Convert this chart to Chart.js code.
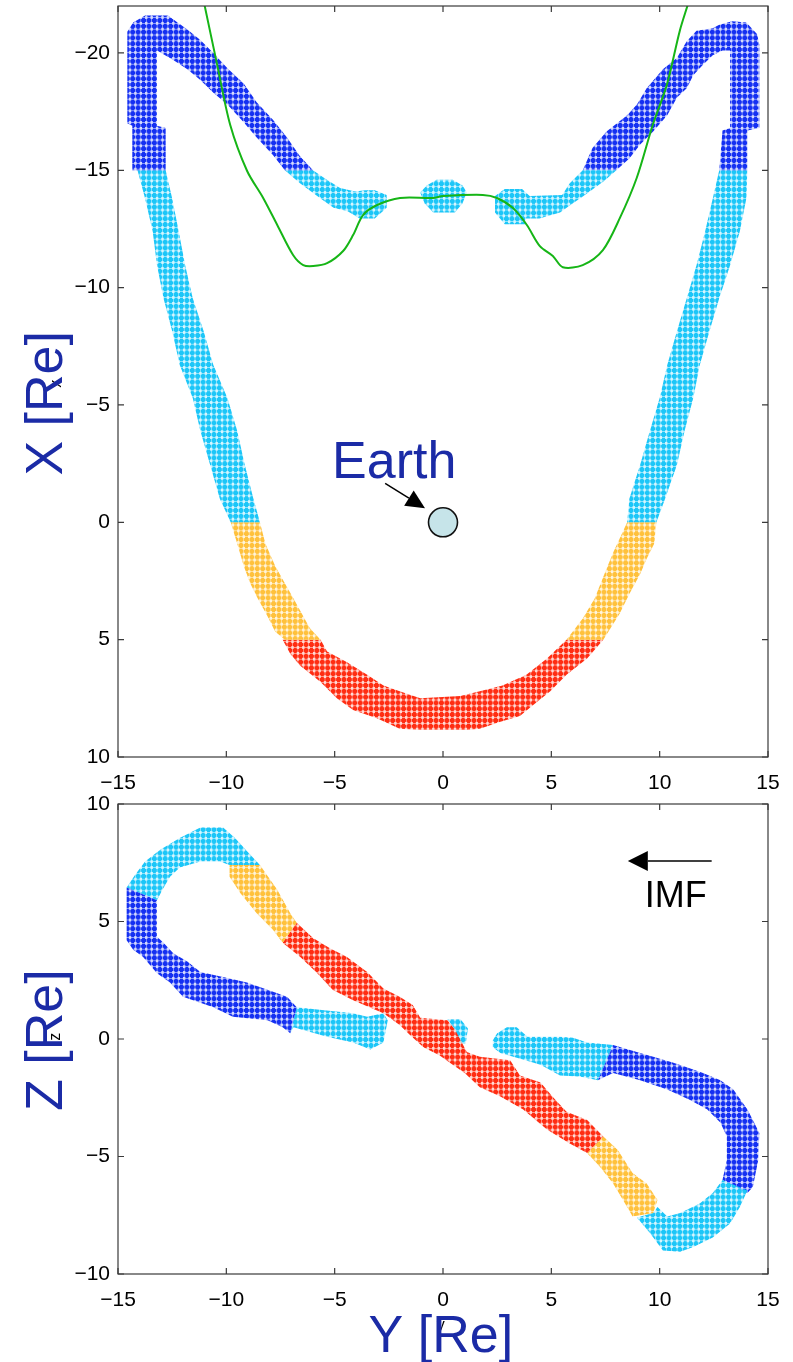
<!DOCTYPE html>
<html>
<head>
<meta charset="utf-8">
<script src="https://cdn.jsdelivr.net/npm/chart.js@4.4.1/dist/chart.umd.min.js"></script>
<style>
  html, body { margin: 0; padding: 0; background: #fff; }
  #wrap { position: relative; width: 793px; height: 1362px; }
  canvas { position: absolute; left: 0; }
  #topChart { top: 0; }
  #botChart { top: 780px; }
</style>
</head>
<body>
<div id="wrap">
  <canvas id="topChart" width="793" height="800"></canvas>
  <canvas id="botChart" width="793" height="582"></canvas>
</div>
<script>
// tick values
const yTicksAll = [-15, -10, -5, 0, 5, 10, 15];
const xTicksTop = [-20, -15, -10, -5, 0, 5, 10];
const zTicksBot = [-10, -5, 0, 5, 10];

// ---- top panel (Y, X) band outlines, one per colour piece ----
const topBlueLeft = [[-14.34,-15],[-14.34,-16.9],[-14.57,-17.0],[-14.57,-20.9],[-14.3,-21.3],[-13.75,-21.6],[-12.7,-21.6],[-11.8,-21.0],[-11.2,-20.55],[-10.6,-20.0],[-9.95,-19.35],[-9.2,-18.7],[-8.6,-17.9],[-7.85,-17.15],[-7.2,-16.4],[-6.6,-15.6],[-6.0,-15],[-7.3,-15],[-7.85,-15.65],[-8.6,-16.4],[-9.2,-17.05],[-9.95,-17.8],[-10.6,-18.3],[-11.2,-18.85],[-11.8,-19.3],[-12.45,-19.7],[-13.2,-20.1],[-13.2,-16.9],[-12.8,-16.8],[-12.8,-15]];
const topCyanLeftArm = [[-14.1,-15],[-13.75,-13.8],[-13.4,-12.4],[-13.2,-10.95],[-12.9,-9.55],[-12.5,-8.15],[-12.15,-6.7],[-11.55,-5.3],[-11.2,-3.9],[-10.75,-2.45],[-10.3,-1.0],[-9.8,0],[-8.45,0],[-8.75,-1.0],[-9.15,-2.45],[-9.5,-3.9],[-9.95,-5.3],[-10.6,-6.7],[-11.05,-8.15],[-11.55,-9.55],[-11.9,-10.95],[-12.2,-12.4],[-12.5,-13.8],[-12.8,-15]];
const topCyanUpperLeft = [[-6.0,-15],[-5.45,-14.65],[-4.75,-14.25],[-4.05,-14.1],[-3.6,-14.15],[-3.15,-14.15],[-2.6,-13.95],[-2.6,-13.4],[-3.15,-12.95],[-3.85,-12.95],[-4.4,-13.25],[-5.05,-13.4],[-5.65,-13.8],[-6.6,-14.45],[-7.3,-15]];
const topCyanNose = [[-0.3,-14.6],[0.45,-14.6],[0.9,-14.35],[1.1,-14.05],[0.9,-13.6],[0.55,-13.2],[-0.45,-13.2],[-0.85,-13.6],[-1.05,-14.05],[-0.75,-14.35]];
const topCyanUpperRight = [[2.4,-13.9],[2.85,-14.2],[3.65,-14.2],[4.0,-13.9],[5.5,-13.95],[5.85,-14.45],[6.45,-15],[8.0,-15],[7.45,-14.55],[6.55,-13.95],[5.85,-13.5],[5.4,-13.2],[4.45,-12.95],[3.8,-12.95],[3.8,-12.7],[2.85,-12.7],[2.4,-13.2]];
const topBlueRight = [[6.45,-15],[6.9,-15.95],[7.55,-16.65],[8.5,-17.35],[8.95,-17.8],[9.4,-18.5],[10.15,-19.3],[10.8,-19.8],[11.25,-20.5],[11.7,-20.95],[12.45,-21.05],[12.75,-21.2],[13.35,-21.35],[14.0,-21.3],[14.5,-20.8],[14.6,-20.35],[14.6,-16.8],[14.05,-16.7],[14.05,-15],[12.75,-15],[12.9,-16.7],[13.25,-16.8],[13.25,-20.1],[12.9,-20.1],[12.45,-19.9],[12.0,-19.5],[11.55,-19.05],[11.25,-18.5],[10.8,-18.1],[10.35,-17.35],[9.7,-16.65],[9.1,-16.1],[8.6,-15.5],[8.0,-15]];
const topCyanRightArm = [[12.75,-15],[12.45,-13.8],[12.1,-12.4],[11.7,-10.95],[11.25,-9.55],[10.8,-8.15],[10.35,-6.7],[10.0,-5.3],[9.55,-3.9],[9.1,-2.45],[8.6,-1.0],[8.5,0],[9.85,0],[10.25,-1.0],[10.8,-2.45],[11.15,-3.9],[11.55,-5.3],[11.85,-6.7],[12.3,-8.15],[12.75,-9.55],[13.25,-10.95],[13.7,-12.4],[14.0,-13.8],[14.05,-15]];
const topOrangeLeft = [[-9.8,0],[-9.5,0.9],[-9.2,1.85],[-8.9,2.6],[-8.55,3.25],[-8.1,4.0],[-7.75,4.65],[-7.3,5],[-5.65,5],[-6.15,4.5],[-6.45,4.0],[-6.9,3.25],[-7.3,2.6],[-7.75,1.85],[-8.2,0.9],[-8.45,0]];
const topOrangeRight = [[8.5,0],[8.15,0.7],[7.85,1.3],[7.45,2.2],[7.0,3.25],[6.45,4.1],[5.7,5],[7.4,5],[8.15,3.9],[8.6,3.05],[9.1,2.2],[9.4,1.55],[9.75,0.9],[9.85,0]];
const topRed = [[-7.4,5],[-7.05,5.6],[-6.6,6.1],[-5.65,6.8],[-4.9,7.5],[-4.15,8.0],[-3.05,8.35],[-2.0,8.8],[-1.05,8.85],[1.1,8.85],[1.7,8.8],[2.65,8.5],[3.55,8.25],[4.15,7.8],[4.95,7.2],[5.7,6.5],[6.65,5.8],[7.4,5],[5.7,5],[4.8,5.8],[3.85,6.5],[2.75,6.95],[1.7,7.2],[0.8,7.4],[-1.05,7.5],[-2.0,7.2],[-2.75,6.95],[-3.5,6.5],[-4.45,5.95],[-5.35,5.5],[-5.65,5]];

// green curve (Y, X)
const greenY = [-11.02,-10.42,-9.82,-9.04,-8.30,-7.65,-6.92,-6.45,-5.99,-5.35,-4.61,-4.15,-3.69,-3.04,-1.98,-0.46,0,1.84,2.49,3.23,3.87,4.47,5.07,5.53,6.45,7.38,8.16,8.94,9.68,10.33,10.93,11.30];
const greenX = [-22.1,-19.48,-16.93,-14.97,-13.82,-12.67,-11.39,-10.96,-10.92,-11.04,-11.56,-12.24,-13.09,-13.52,-13.82,-13.82,-13.9,-13.95,-13.82,-13.39,-12.67,-11.77,-11.35,-10.87,-10.96,-11.6,-12.96,-14.67,-16.93,-18.64,-20.95,-22.06];

// ---- bottom panel (Y, Z) band outlines ----
const botBlueLeft = [[-14.6,6.45],[-14.6,4.2],[-14.3,3.8],[-13.85,3.5],[-13.2,2.8],[-12.6,2.4],[-12.0,1.8],[-10.6,1.35],[-9.7,0.95],[-8.1,0.8],[-7.4,0.5],[-7.05,0.25],[-6.75,1.35],[-7.2,1.8],[-8.1,2.1],[-9.05,2.4],[-9.95,2.6],[-11.2,2.85],[-11.8,3.3],[-12.45,3.65],[-12.9,4.1],[-13.2,4.35],[-13.2,5.9]];
const botCyanLoopLeft = [[-14.6,6.45],[-14.2,7.0],[-13.75,7.55],[-13.05,8.05],[-12.15,8.55],[-11.2,9.0],[-10.15,9.0],[-9.6,8.55],[-9.0,7.95],[-8.45,7.4],[-9.85,7.4],[-10.3,7.55],[-11.2,7.55],[-12.15,7.3],[-12.6,6.9],[-12.95,6.35],[-13.2,5.9]];
const botOrangeLeft = [[-9.85,7.4],[-8.45,7.4],[-7.65,6.35],[-7.05,5.35],[-6.75,4.95],[-7.4,4.1],[-7.85,4.65],[-8.6,5.35],[-9.35,6.2],[-9.85,6.9]];
const botRed = [[-6.75,4.95],[-6.0,4.3],[-5.2,3.85],[-4.45,3.5],[-3.5,2.85],[-2.75,2.15],[-2.0,1.8],[-1.4,1.45],[-1.05,0.9],[0.2,0.8],[0.55,0.4],[1.1,-0.55],[1.7,-0.75],[3.1,-0.9],[3.55,-1.55],[4.5,-1.85],[5.1,-2.5],[5.7,-3.1],[6.65,-3.45],[7.4,-4.15],[6.65,-4.85],[5.85,-4.45],[4.8,-3.85],[3.7,-3.0],[2.65,-2.45],[1.7,-2.05],[1.0,-1.45],[0.3,-1.0],[-0.15,-0.7],[-0.9,-0.35],[-1.5,0.15],[-2.0,0.6],[-2.75,1.1],[-4.15,1.65],[-5.1,2.1],[-5.8,2.8],[-6.6,3.5],[-7.4,4.1]];
const botOrangeRight = [[7.4,-4.15],[8.05,-4.7],[8.75,-5.7],[9.4,-6.15],[9.9,-6.85],[9.7,-7.4],[8.75,-7.55],[8.5,-7.15],[7.85,-6.15],[7.25,-5.45],[6.65,-4.85]];
const botCyanLoopRight = [[8.95,-7.6],[9.55,-8.25],[10.15,-9.0],[10.95,-9.05],[11.55,-8.85],[12.45,-8.45],[13.25,-7.85],[13.7,-7.15],[14.05,-6.45],[12.9,-6.0],[12.45,-6.55],[11.85,-7.0],[10.95,-7.4],[10.35,-7.55],[9.9,-7.15],[9.7,-7.4]];
const botBlueRight = [[14.05,-6.55],[14.3,-6.3],[14.55,-5.15],[14.6,-4.0],[14.3,-3.45],[14.05,-3.0],[13.4,-2.15],[12.8,-1.75],[12.0,-1.45],[11.25,-1.2],[10.6,-1.0],[9.7,-0.75],[9.1,-0.6],[7.85,-0.25],[7.15,-1.75],[7.85,-1.45],[9.1,-1.75],[10.35,-2.15],[11.4,-2.6],[12.2,-3.0],[12.8,-3.55],[13.1,-4.15],[13.1,-5.15],[12.9,-6.0]];
const botCyanUpperRight = [[2.3,-0.05],[2.5,0.25],[2.95,0.5],[3.4,0.5],[3.9,0.1],[5.4,0.1],[6.0,0.05],[6.65,-0.15],[7.85,-0.25],[7.15,-1.75],[6.3,-1.6],[5.4,-1.55],[4.5,-1.1],[3.25,-0.75],[2.65,-0.6],[2.3,-0.35]];
const botCyanLowerLeft = [[-6.75,1.35],[-5.7,1.25],[-4.15,1.1],[-3.5,0.95],[-2.75,1.1],[-2.55,0.8],[-2.75,-0.15],[-3.35,-0.45],[-4.15,-0.15],[-5.35,0.1],[-6.9,0.5],[-7.05,0.25]];
const botCyanCenter = [[0.2,0.85],[0.8,0.85],[1.15,0.45],[1.05,-0.2],[0.75,-0.15],[0.55,0.4]];

// annotations (data coordinates)
const earthPos = [0, 0];
const earthLabel = [-5.12, -1.88];
const earthArrow = [[-2.67, -1.66], [-0.83, -0.6]];
const imfArrow = [[12.4, 7.57], [8.53, 7.57]];
const imfLabel = [9.31, 5.62];

const BLUE = '#1530f2', CYAN = '#1cc6f8', ORANGE = '#ffc13c', RED = '#ff2d12';
const TITLE_BLUE = '#1b2ba6';
const FONT = '"Liberation Sans", Arial, Helvetica, sans-serif';

function markerPattern(color) {
  const c = document.createElement('canvas');
  c.width = 65; c.height = 70;
  const g = c.getContext('2d');
  g.globalAlpha = 0.18;
  g.fillStyle = color;
  g.fillRect(0, 0, 65, 70);
  g.globalAlpha = 1;
  const sx = 65 / 12, sy = 70 / 12;
  for (let i = 0; i < 12; i++) {
    for (let j = 0; j < 12; j++) {
      const cx = i * sx + sx / 2, cy = j * sy + sy / 2;
      g.fillRect(cx - sx * 0.45, cy - 1.5, sx * 0.9, 3.0);
      g.fillRect(cx - 1.5, cy - sy * 0.45, 3.0, sy * 0.9);
    }
  }
  return g.createPattern(c, 'repeat');
}
const patterns = {};
[BLUE, CYAN, ORANGE, RED].forEach(c => patterns[c] = markerPattern(c));

const toPts = arr => arr.map(p => ({x: p[0], y: p[1]}));
const minus = v => (v < 0 ? '\u2212' + Math.abs(v) : String(v));

function band(arr, color) {
  return {
    data: toPts(arr), showLine: true, fill: 'shape',
    backgroundColor: patterns[color], borderColor: 'transparent', borderWidth: 0,
    pointRadius: 0, order: 3
  };
}

function arrow(ctx, x0, y0, x1, y1, hl, hw) {
  const a = Math.atan2(y1 - y0, x1 - x0);
  const bx = x1 - hl * Math.cos(a), by = y1 - hl * Math.sin(a);
  ctx.beginPath(); ctx.moveTo(x0, y0); ctx.lineTo(bx, by); ctx.stroke();
  ctx.beginPath(); ctx.moveTo(x1, y1);
  ctx.lineTo(bx + hw * Math.sin(a), by - hw * Math.cos(a));
  ctx.lineTo(bx - hw * Math.sin(a), by + hw * Math.cos(a));
  ctx.closePath(); ctx.fill();
}

// box with inward ticks on all four sides
const frame = {
  id: 'frame',
  afterDraw(chart) {
    const {ctx, chartArea: a, scales: {x, y}} = chart;
    ctx.save();
    ctx.strokeStyle = '#3a3a3a';
    ctx.lineWidth = 1.2;
    ctx.strokeRect(a.left, a.top, a.right - a.left, a.bottom - a.top);
    ctx.beginPath();
    x.ticks.forEach(t => {
      const p = x.getPixelForValue(t.value);
      ctx.moveTo(p, a.bottom); ctx.lineTo(p, a.bottom - 6);
      ctx.moveTo(p, a.top); ctx.lineTo(p, a.top + 6);
    });
    y.ticks.forEach(t => {
      const p = y.getPixelForValue(t.value);
      ctx.moveTo(a.left, p); ctx.lineTo(a.left + 6, p);
      ctx.moveTo(a.right, p); ctx.lineTo(a.right - 6, p);
    });
    ctx.stroke();
    ctx.restore();
  }
};

function rotatedText(ctx, text, x, y, font, color) {
  ctx.save();
  ctx.translate(x, y);
  ctx.rotate(-Math.PI / 2);
  ctx.font = font; ctx.fillStyle = color;
  ctx.textAlign = 'center'; ctx.textBaseline = 'alphabetic';
  ctx.fillText(text, 0, 0);
  ctx.restore();
}

const topNotes = {
  id: 'topNotes',
  afterDraw(chart) {
    const {ctx, scales: {x, y}} = chart;
    ctx.save();
    ctx.font = '52px ' + FONT;
    ctx.fillStyle = TITLE_BLUE;
    ctx.textAlign = 'left';
    ctx.fillText('Earth', x.getPixelForValue(earthLabel[0]), y.getPixelForValue(earthLabel[1]));
    ctx.strokeStyle = '#000'; ctx.fillStyle = '#000'; ctx.lineWidth = 1.5;
    arrow(ctx, x.getPixelForValue(earthArrow[0][0]), y.getPixelForValue(earthArrow[0][1]),
      x.getPixelForValue(earthArrow[1][0]), y.getPixelForValue(earthArrow[1][1]), 19, 9);
    ctx.restore();
    rotatedText(ctx, 'x', 61, y.getPixelForValue(-5.9), '16px ' + FONT, '#000');
    rotatedText(ctx, 'X [Re]', 62, y.getPixelForValue(-5.07), '52px ' + FONT, TITLE_BLUE);
  }
};

const botNotes = {
  id: 'botNotes',
  afterDraw(chart) {
    const {ctx, chartArea: a, scales: {x, y}} = chart;
    ctx.save();
    ctx.strokeStyle = '#000'; ctx.fillStyle = '#000'; ctx.lineWidth = 1.5;
    arrow(ctx, x.getPixelForValue(imfArrow[0][0]), y.getPixelForValue(imfArrow[0][1]),
      x.getPixelForValue(imfArrow[1][0]), y.getPixelForValue(imfArrow[1][1]), 20, 10);
    ctx.font = '36px ' + FONT;
    ctx.textAlign = 'left';
    ctx.fillText('IMF', x.getPixelForValue(imfLabel[0]), y.getPixelForValue(imfLabel[1]));
    ctx.font = '16px ' + FONT;
    ctx.textAlign = 'center';
    ctx.fillText('y', x.getPixelForValue(-0.1), a.bottom + 56);
    ctx.font = '52px ' + FONT;
    ctx.fillStyle = TITLE_BLUE;
    ctx.fillText('Y [Re]', x.getPixelForValue(-0.1), a.bottom + 78);
    ctx.restore();
    rotatedText(ctx, 'z', 60, y.getPixelForValue(0.1), '16px ' + FONT, '#000');
    rotatedText(ctx, 'Z [Re]', 62, y.getPixelForValue(-0.05), '52px ' + FONT, TITLE_BLUE);
  }
};

function axes(yMin, yMax, yTicks, reverse, xHeight) {
  const tickFont = {family: FONT, size: 21};
  return {
    x: {
      type: 'linear', min: -15, max: 15,
      grid: {display: false, drawTicks: false}, border: {display: false},
      afterBuildTicks: s => { s.ticks = yTicksAll.map(v => ({value: v})); },
      afterFit: s => { s.height = xHeight; s.paddingLeft = 0; s.paddingRight = 0; },
      ticks: {color: '#000', font: tickFont, padding: 14, maxRotation: 0, autoSkip: false, callback: minus}
    },
    y: {
      type: 'linear', min: yMin, max: yMax, reverse: reverse,
      grid: {display: false, drawTicks: false}, border: {display: false},
      afterBuildTicks: s => { s.ticks = yTicks.map(v => ({value: v})); },
      afterFit: s => { s.width = 118; s.paddingTop = 0; s.paddingBottom = 0; },
      ticks: {color: '#000', font: tickFont, padding: 8, autoSkip: false, callback: minus}
    }
  };
}

const baseOptions = (padTop, scales) => ({
  responsive: false,
  animation: false,
  devicePixelRatio: 1,
  layout: {autoPadding: false, padding: {left: 0, right: 25, top: padTop, bottom: 0}},
  plugins: {legend: {display: false}, tooltip: {enabled: false}},
  scales: scales
});

new Chart(document.getElementById('topChart'), {
  type: 'scatter',
  data: {
    datasets: [
      {data: [{x: earthPos[0], y: earthPos[1]}], pointRadius: 14.5, pointBackgroundColor: '#c6e4e9',
       pointBorderColor: '#111', pointBorderWidth: 1.6, order: 0},
      {data: greenY.map((v, i) => ({x: v, y: greenX[i]})), showLine: true, borderColor: '#16b516',
       borderWidth: 2, pointRadius: 0, fill: false, tension: 0.3, order: 1},
      band(topBlueLeft, BLUE),
      band(topCyanLeftArm, CYAN),
      band(topCyanUpperLeft, CYAN),
      band(topCyanNose, CYAN),
      band(topCyanUpperRight, CYAN),
      band(topBlueRight, BLUE),
      band(topCyanRightArm, CYAN),
      band(topOrangeLeft, ORANGE),
      band(topOrangeRight, ORANGE),
      band(topRed, RED)
    ]
  },
  options: baseOptions(6, axes(-22, 10, xTicksTop, true, 43)),
  plugins: [frame, topNotes]
});

new Chart(document.getElementById('botChart'), {
  type: 'scatter',
  data: {
    datasets: [
      band(botBlueLeft, BLUE),
      band(botCyanLoopLeft, CYAN),
      band(botOrangeLeft, ORANGE),
      band(botRed, RED),
      band(botOrangeRight, ORANGE),
      band(botCyanLoopRight, CYAN),
      band(botBlueRight, BLUE),
      band(botCyanUpperRight, CYAN),
      band(botCyanLowerLeft, CYAN),
      band(botCyanCenter, CYAN)
    ]
  },
  options: baseOptions(24, axes(-10, 10, zTicksBot, false, 88)),
  plugins: [frame, botNotes]
});
</script>
</body>
</html>
